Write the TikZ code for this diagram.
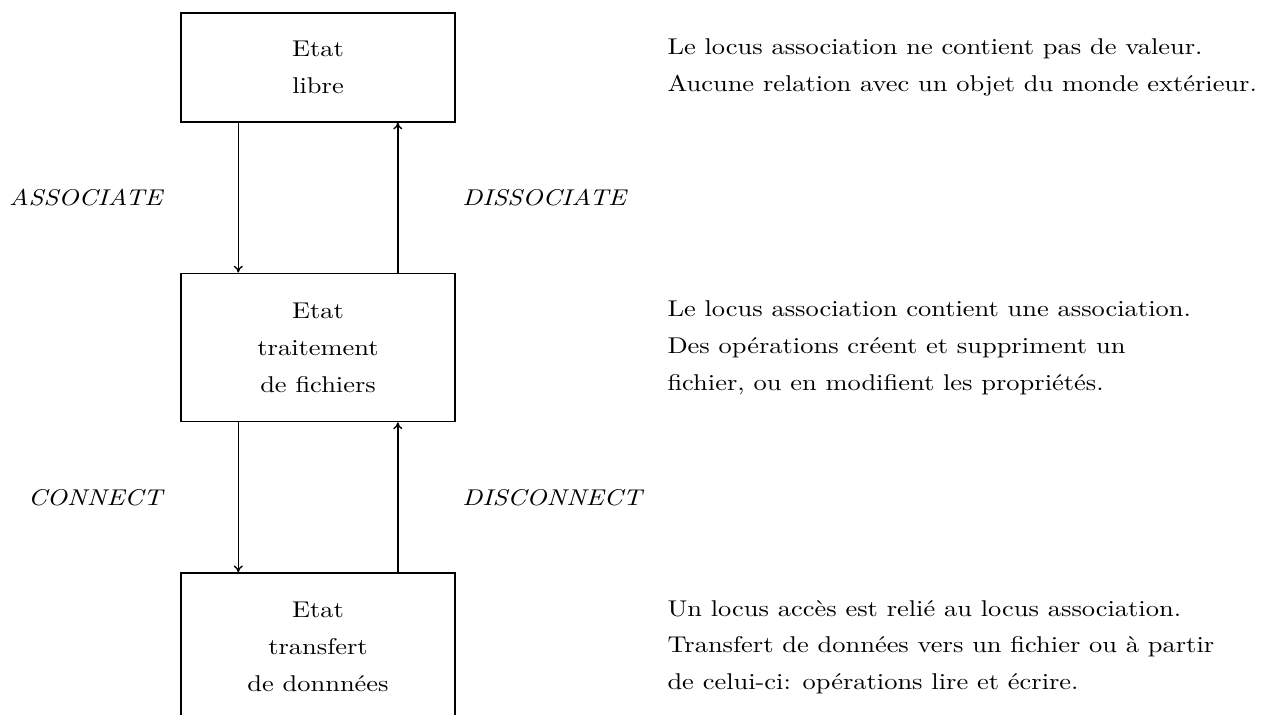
\documentclass[tikz,border=0pt]{standalone}
\usepackage{fontspec}
\setmainfont{lmroman10-regular.otf}[ItalicFont=lmroman10-italic.otf, FakeStretch=1.16]
\usepackage{tikz}
\usetikzlibrary{arrows.meta,positioning}
\tikzset{
    states/.style={
           rectangle,
           draw=black, line width=0.7pt,
           minimum width=120.3pt,
           minimum height=65pt,
           align=center,
           font=\fontsize{10pt}{16.2pt}\selectfont},
    % Define arrow style
    trans/.style={
           -{To[length=3pt,width=4pt]},
           line width=0.6pt},
    descr/.style={
           inner sep=0pt,
           align=left,
           font=\fontsize{10pt}{16.2pt}\selectfont},
    ops/.style={
           inner sep=0pt,
           font=\itshape}
}
\begin{document}
\begin{tikzpicture}[node distance=65.8pt]
	\useasboundingbox (0,0) rectangle (555.3pt,-313.2pt);
	\node[states, minimum height=47.8pt] (libre) at (139.5pt,-29.5pt) {Etat\\libre};
	\node[states, below=of libre] (traitement) {Etat\\traitement\\de fichiers};
	\node[states, below=of traitement] (transfert) {Etat\\transfert\\de donnnées};

	\node[descr, right=92.6pt of libre] (dlibre) {Le locus association ne contient pas de valeur.\\Aucune relation avec un objet du monde extérieur.};
	\node[descr, right=92.6pt of traitement] (dtraitement) {Le locus association contient une association.\\Des opérations créent et suppriment un\\fichier, ou en modifient les propriétés.};
	\node[descr, right=92.6pt of transfert] (dtransfert) {Un locus accès est relié au locus association.\\Transfert de données vers un fichier ou à partir\\de celui-ci: opérations lire et écrire.};

	\draw[trans] ([xshift=-35pt]libre.south) -- node[ops, left=33pt] {ASSOCIATE} ([xshift=-35pt]traitement.north);
	\draw[trans] ([xshift=35pt]traitement.north) -- node[ops, right=28pt] {DISSOCIATE} ([xshift=35pt]libre.south);
	\draw[trans] ([xshift=-35pt]traitement.south) -- node[ops, left=33pt] {CONNECT} ([xshift=-35pt]transfert.north);
	\draw[trans] ([xshift=35pt]transfert.north) -- node[ops, right=28pt] {DISCONNECT} ([xshift=35pt]traitement.south);
\end{tikzpicture}
\end{document}
